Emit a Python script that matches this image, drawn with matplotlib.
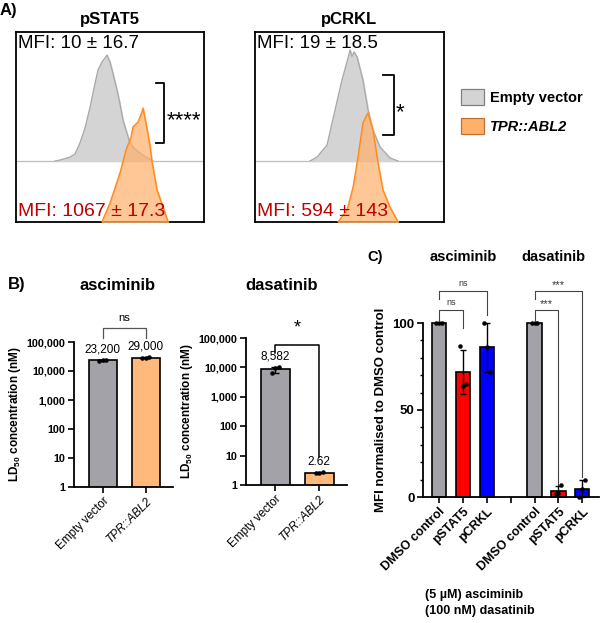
#! /usr/bin/env python3

# Flow histograms (A), LD50 bars (B) and normalised MFI bars (C)
import numpy as np
import matplotlib
matplotlib.use("Agg")
import matplotlib.pyplot as plt
from matplotlib.patches import Patch
from matplotlib.ticker import FixedLocator, NullLocator, MultipleLocator

plt.rcParams['font.family'] = ['Liberation Sans', 'DejaVu Sans']
plt.rcParams['mathtext.fontset'] = 'custom'
plt.rcParams['mathtext.rm'] = 'Liberation Sans'
plt.rcParams['mathtext.bf'] = 'Liberation Sans:bold'

# ---------------- data ----------------
# A) histograms: fluorescence (0-100 across the plot) vs count
stat5_empty_x = [20.7, 23.4, 28.7, 31.4, 34.0, 36.7, 39.4, 41.5, 43.6, 45.7, 47.3, 48.4, 50.0,
                 51.1, 53.7, 55.3, 56.9, 58.5, 60.6, 63.3, 66.0, 69.1, 72.9]
stat5_empty_y = [0, 0.5, 2.1, 3.7, 9.5, 17.4, 28.4, 38.4, 47.9, 52.1, 54.2, 55.8, 52.1,
                 47.9, 37.4, 30.0, 21.6, 16.3, 9.5, 6.3, 4.2, 2.1, 0]
stat5_tpr_x = [45.7, 50.0, 55.3, 58.5, 61.2, 62.2, 64.9, 67.0, 67.6, 69.7, 71.3, 72.3, 75.0, 78.2, 80.9]
stat5_tpr_y = [0, 10.0, 25.8, 37.9, 44.7, 50.0, 52.6, 57.9, 60.0, 48.9, 40.0, 32.0, 16.8, 7.9, 0]

crkl_empty_x = [29.1, 32.8, 38.1, 42.3, 46.0, 49.2, 50.3, 51.3, 52.4, 54.0, 57.1, 59.8, 62.4,
                66.1, 71.4, 75.7]
crkl_empty_y = [0, 2.1, 8.4, 26.8, 42.6, 54.2, 58.4, 55.0, 57.4, 54.7, 42.6, 26.8, 16.3,
                7.4, 1.6, 0]
crkl_tpr_x = [43.9, 48.7, 51.9, 54.5, 57.1, 58.5, 59.8, 62.4, 65.1, 67.7, 71.4, 75.7]
crkl_tpr_y = [0, 6.3, 18.4, 34.2, 52.1, 55.0, 57.4, 48.4, 31.1, 16.8, 7.9, 0]

mfi_empty = ["MFI: 10 ± 16.7", "MFI: 19 ± 18.5"]
mfi_tpr = ["MFI: 1067 ± 17.3", "MFI: 594 ± 143"]
sig_a = ["****", "*"]

# B) LD50 (nM)
groups_b = ["Empty vector", "TPR::ABL2"]
asc_ld50 = [23200, 29000]
asc_reps = [[22600, 23200, 23800], [28400, 29000, 29600]]
das_ld50 = [8582, 2.62]
das_reps = [[6400, 9300, 10000], [2.5, 2.6, 2.8]]

# C) MFI normalised to DMSO control
labels_c = ["DMSO control", "pSTAT5", "pCRKL", "", "DMSO control", "pSTAT5", "pCRKL"]
reps_c = {0: [100, 100, 100], 1: [86.5, 64, 65], 2: [100, 86, 72],
          4: [100, 100, 100], 5: [1.5, 2.5, 6.8], 6: [0, 4.5, 10]}

GRAY_FILL = '#d4d4d4'
GRAY_EDGE = '#a8a8a8'
ORANGE_FILL = '#ffb06a'
ORANGE_EDGE = '#ff8a1c'
BAR_GRAY = '#a2a2a8'
BAR_ORANGE = '#ffb97a'
MFI_RED = '#c00000'
colors_c = {0: BAR_GRAY, 1: '#ff0000', 2: '#0000ff', 4: BAR_GRAY, 5: '#ff0000', 6: '#0000ff'}

W, H = 600, 623
fig = plt.figure(figsize=(W / 100, H / 100), dpi=100)


def px_axes(x0, y0, x1, y1):
    return fig.add_axes([x0 / W, 1 - y1 / H, (x1 - x0) / W, (y1 - y0) / H])


def fx(px):
    return px / W


def fy(py):
    return 1 - py / H


# ---------------- A) ----------------
GRAY_OFFSET = 32.1
hist_sets = [(stat5_empty_x, stat5_empty_y, stat5_tpr_x, stat5_tpr_y),
             (crkl_empty_x, crkl_empty_y, crkl_tpr_x, crkl_tpr_y)]
boxes = [(16, 32, 204, 222), (255, 32, 444, 222)]
titles_a = ["pSTAT5", "pCRKL"]
brackets_a = [(78.7, 74.5, 73.2, 41.6), (73.5, 67.7, 77.4, 45.8)]
for i in range(2):
    ax = px_axes(*boxes[i])
    ex, ey, tx, ty = hist_sets[i]
    ey = np.array(ey) + GRAY_OFFSET
    ax.axhline(GRAY_OFFSET, color='#bdbdbd', lw=0.9, zorder=1)
    ax.fill_between(ex, GRAY_OFFSET, ey, color=GRAY_FILL, zorder=2)
    ax.plot(ex, ey, color=GRAY_EDGE, lw=0.9, zorder=3)
    ax.fill_between(tx, 0, ty, color=ORANGE_FILL, alpha=0.7, zorder=4)
    ax.plot(tx, ty, color=ORANGE_EDGE, lw=1.0, zorder=5)
    ax.set_xlim(0, 100)
    ax.set_ylim(0, 100)
    ax.set_xticks([])
    ax.set_yticks([])
    for s in ax.spines.values():
        s.set_linewidth(1.3)
    ax.text(0.012, 0.985, mfi_empty[i], transform=ax.transAxes, ha='left', va='top',
            fontsize=13.5, color='black', zorder=6)
    ax.text(0.008, 0.03, mfi_tpr[i], transform=ax.transAxes, ha='left', va='baseline',
            fontsize=14, color=MFI_RED, zorder=6)
    bx, bx0, by1, by0 = brackets_a[i]
    ax.plot([bx0, bx, bx, bx0], [by1, by1, by0, by0], color='black', lw=1.3, zorder=6)
    ax.text(bx + 1.2, (by1 + by0) / 2 - 4, sig_a[i], ha='left', va='center',
            fontsize=16, zorder=6)
    ax.set_title(titles_a[i], fontsize=12, fontweight='bold', pad=6)

fig.text(fx(0), fy(10), "A)", fontsize=12, fontweight='bold', ha='left', va='center')
leg = fig.legend(handles=[Patch(facecolor=GRAY_FILL, edgecolor='#808080', lw=0.9),
                          Patch(facecolor=ORANGE_FILL, edgecolor='#c07030', lw=0.9)],
                 labels=["Empty vector", "TPR::ABL2"], loc='upper left',
                 bbox_to_anchor=(fx(448), fy(76)), frameon=False, handlelength=1.6,
                 handleheight=1.3, handletextpad=0.4, labelspacing=0.9,
                 prop={'size': 10.5, 'weight': 'bold'})
leg.get_texts()[1].set_style('italic')

# ---------------- B) ----------------
def ld50_panel(ax, vals, reps):
    xs = np.arange(len(vals))
    errs = [np.std(r, ddof=1) for r in reps]
    ax.bar(xs, vals, width=0.65, color=[BAR_GRAY, BAR_ORANGE], edgecolor='black',
           linewidth=1.2, zorder=2)
    ax.errorbar(xs, vals, yerr=errs, fmt='none', ecolor='black', elinewidth=1.0,
                capsize=3, capthick=1.0, zorder=3, clip_on=False)
    for x, r in zip(xs, reps):
        ax.scatter([x - 0.08, x, x + 0.08], r, s=5, color='black', zorder=4, clip_on=False)
    for x, v in zip(xs, vals):
        lab = "{:,}".format(v) if v >= 100 else "{}".format(v)
        ax.text(x, v * 1.45 + (np.std(reps[x], ddof=1) if v > 5000 else 0), lab,
                ha='center', va='bottom', fontsize=8.5)
    ax.set_yscale('log')
    ax.set_ylim(1, 100000)
    ax.set_xlim(-0.67, 1.63)
    ax.yaxis.set_major_locator(FixedLocator([1, 10, 100, 1000, 10000, 100000]))
    ax.yaxis.set_minor_locator(NullLocator())
    ax.set_yticklabels(["1", "10", "100", "1,000", "10,000", "100,000"])
    ax.set_xticks(xs)
    ax.set_xticklabels(groups_b, rotation=45, ha='right', rotation_mode='anchor',
                       fontsize=8.5)
    ax.get_xticklabels()[1].set_style('italic')
    for lab in ax.get_yticklabels():
        lab.set_fontweight('bold')
        lab.set_fontsize(7.8)
    ax.tick_params(length=4, width=1.2, pad=2)
    for s in ['top', 'right']:
        ax.spines[s].set_visible(False)
    for s in ['left', 'bottom']:
        ax.spines[s].set_linewidth(1.3)
    ax.set_ylabel(r"LD$_{\mathbf{50}}$ concentration (nM)", fontsize=8.5,
                  fontweight='bold', labelpad=3)


axb1 = px_axes(74, 342, 173, 487)
ld50_panel(axb1, asc_ld50, asc_reps)
axb1.plot([0, 0, 1, 1], [1.4e5, 3.0e5, 3.0e5, 1.4e5], color='#555555', lw=0.9, clip_on=False)
axb1.text(0.5, 4.6e5, "ns", ha='center', va='bottom', fontsize=8)

axb2 = px_axes(246, 338, 347, 485)
ld50_panel(axb2, das_ld50, das_reps)
axb2.plot([0, 0, 1, 1], [3.1e4, 5.8e4, 5.8e4, 8.9], color='black', lw=1.1, clip_on=False)
axb2.text(0.5, 1.1e5, "*", ha='center', va='bottom', fontsize=13)

fig.text(fx(8), fy(285), "B)", fontsize=12, fontweight='bold', ha='left', va='center')
fig.text(fx(118), fy(285), "asciminib", fontsize=12, fontweight='bold', ha='center', va='center')
fig.text(fx(282), fy(285), "dasatinib", fontsize=12, fontweight='bold', ha='center', va='center')

# ---------------- C) ----------------
axc = px_axes(423, 323, 599, 497)
for x, r in reps_c.items():
    m = np.mean(r)
    sd = np.std(r, ddof=1)
    axc.bar(x, m, width=0.6, color=colors_c[x], edgecolor='black', linewidth=1.2,
            zorder=2, clip_on=False)
    if sd > 0:
        axc.errorbar(x, m, yerr=sd, fmt='none', ecolor='black', elinewidth=1.0,
                     capsize=2.5, capthick=1.0, zorder=3, clip_on=False)
    axc.scatter([x - 0.12, x, x + 0.12], r, s=5, color='black', zorder=4, clip_on=False)
axc.set_xlim(-0.67, 6.7)
axc.set_ylim(0, 100)
axc.set_xticks(range(7))
axc.set_xticklabels(labels_c, rotation=45, ha='right', rotation_mode='anchor',
                    fontsize=9, fontweight='bold')
axc.yaxis.set_major_locator(FixedLocator([0, 50, 100]))
axc.yaxis.set_minor_locator(MultipleLocator(10))
for lab in axc.get_yticklabels():
    lab.set_fontweight('bold')
    lab.set_fontsize(9.5)
axc.tick_params(which='major', length=4, width=1.2, pad=2)
axc.tick_params(which='minor', length=2.5, width=1.0)
for s in ['top', 'right']:
    axc.spines[s].set_visible(False)
for s in ['left', 'bottom']:
    axc.spines[s].set_linewidth(1.3)
axc.set_ylabel("MFI normalised to DMSO control", fontsize=9.5, fontweight='bold', labelpad=4)

# significance brackets: (x0, x1, top, left end, right end, label)
brackets_c = [(0, 1, 107.5, 101.7, 97.0, "ns"), (0, 2, 118.4, 114.0, 104.6, "ns"),
              (4, 5, 107.5, 101.7, 7.0, "***"), (4, 6, 118.4, 114.0, 11.5, "***")]
for x0, x1, top, l_end, r_end, lab in brackets_c:
    axc.plot([x0, x0, x1, x1], [l_end, top, top, r_end], color='#444444', lw=0.8,
             clip_on=False)
    if lab == "ns":
        axc.text((x0 + x1) / 2, top + 1.5, lab, ha='center', va='bottom', fontsize=6.5,
                 color='#333333')
    else:
        axc.text((x0 + x1) / 2, top + 0.5, lab, ha='center', va='bottom', fontsize=8,
                 color='#333333')

fig.text(fx(367), fy(257), "C)", fontsize=10.5, fontweight='bold', ha='left', va='center')
fig.text(fx(463), fy(257), "asciminib", fontsize=10.5, fontweight='bold', ha='center', va='center')
fig.text(fx(553), fy(257), "dasatinib", fontsize=10.5, fontweight='bold', ha='center', va='center')
fig.text(fx(425), fy(603), "(5 µM) asciminib\n(100 nM) dasatinib", fontsize=9,
         fontweight='bold', ha='left', va='center', linespacing=1.5)

fig.savefig("out.png", dpi=100)
